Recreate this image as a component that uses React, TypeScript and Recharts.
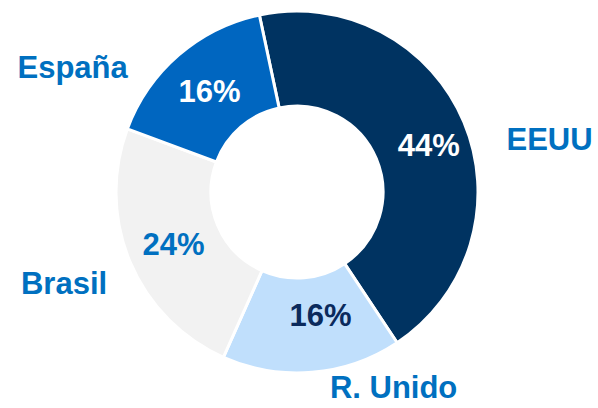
import React from "react";
import { PieChart, Pie, Cell } from "recharts";

document.body.style.margin = "0";

const countries = ["EEUU", "R. Unido", "Brasil", "España"];
const shares = [44, 16, 24, 16];

const sliceColors = ["#003361", "#C0DFFC", "#F2F2F2", "#0066C0"];
const valueColors = ["#FFFFFF", "#0B2A5C", "#0070C0", "#FFFFFF"];
const nameColor = "#0070C0";

// outer label placement: angle offset from slice middle (deg, clockwise) and distance from centre
const namePlacement = [
  { turn: 11, dist: 258 },
  { turn: -21.5, dist: 218 },
  { turn: 1.5, dist: 250 },
  { turn: -20, dist: 257 },
];
const valuePlacement = [
  { turn: 3, dist: 140 },
  { turn: -6, dist: 125 },
  { turn: 0, dist: 134 },
  { turn: 0, dist: 134 },
];

const data = countries.map((name, i) => ({ name, value: shares[i] }));

const RAD = Math.PI / 180;
const font = "'Liberation Sans', Arial, sans-serif";

const polar = (cx: number, cy: number, midAngle: number, turn: number, dist: number) => {
  const a = (midAngle - turn) * RAD;
  return { x: cx + dist * Math.cos(a), y: cy - dist * Math.sin(a) };
};

const renderLabels = (props: any) => {
  const { cx, cy, midAngle, index, value, name } = props;
  const v = polar(cx, cy, midAngle, valuePlacement[index].turn, valuePlacement[index].dist);
  const n = polar(cx, cy, midAngle, namePlacement[index].turn, namePlacement[index].dist);
  return (
    <g>
      <text
        x={v.x}
        y={v.y}
        dy={11}
        textAnchor="middle"
        fill={valueColors[index]}
        fontFamily={font}
        fontWeight="bold"
        fontSize={31}
      >
        {value}%
      </text>
      <text
        x={n.x}
        y={n.y}
        dy={11}
        textAnchor="middle"
        fill={nameColor}
        fontFamily={font}
        fontWeight="bold"
        fontSize={31}
      >
        {name}
      </text>
    </g>
  );
};

export default function App() {
  return (
    <div style={{ width: 598, height: 408, background: "#FFFFFF" }}>
      <PieChart width={598} height={408}>
        <Pie
          data={data}
          dataKey="value"
          nameKey="name"
          cx={292}
          cy={187}
          innerRadius={86}
          outerRadius={181}
          startAngle={102}
          endAngle={-258}
          stroke="#FFFFFF"
          strokeWidth={3}
          label={renderLabels}
          labelLine={false}
          isAnimationActive={false}
        >
          {data.map((entry, i) => (
            <Cell key={entry.name} fill={sliceColors[i]} />
          ))}
        </Pie>
      </PieChart>
    </div>
  );
}
